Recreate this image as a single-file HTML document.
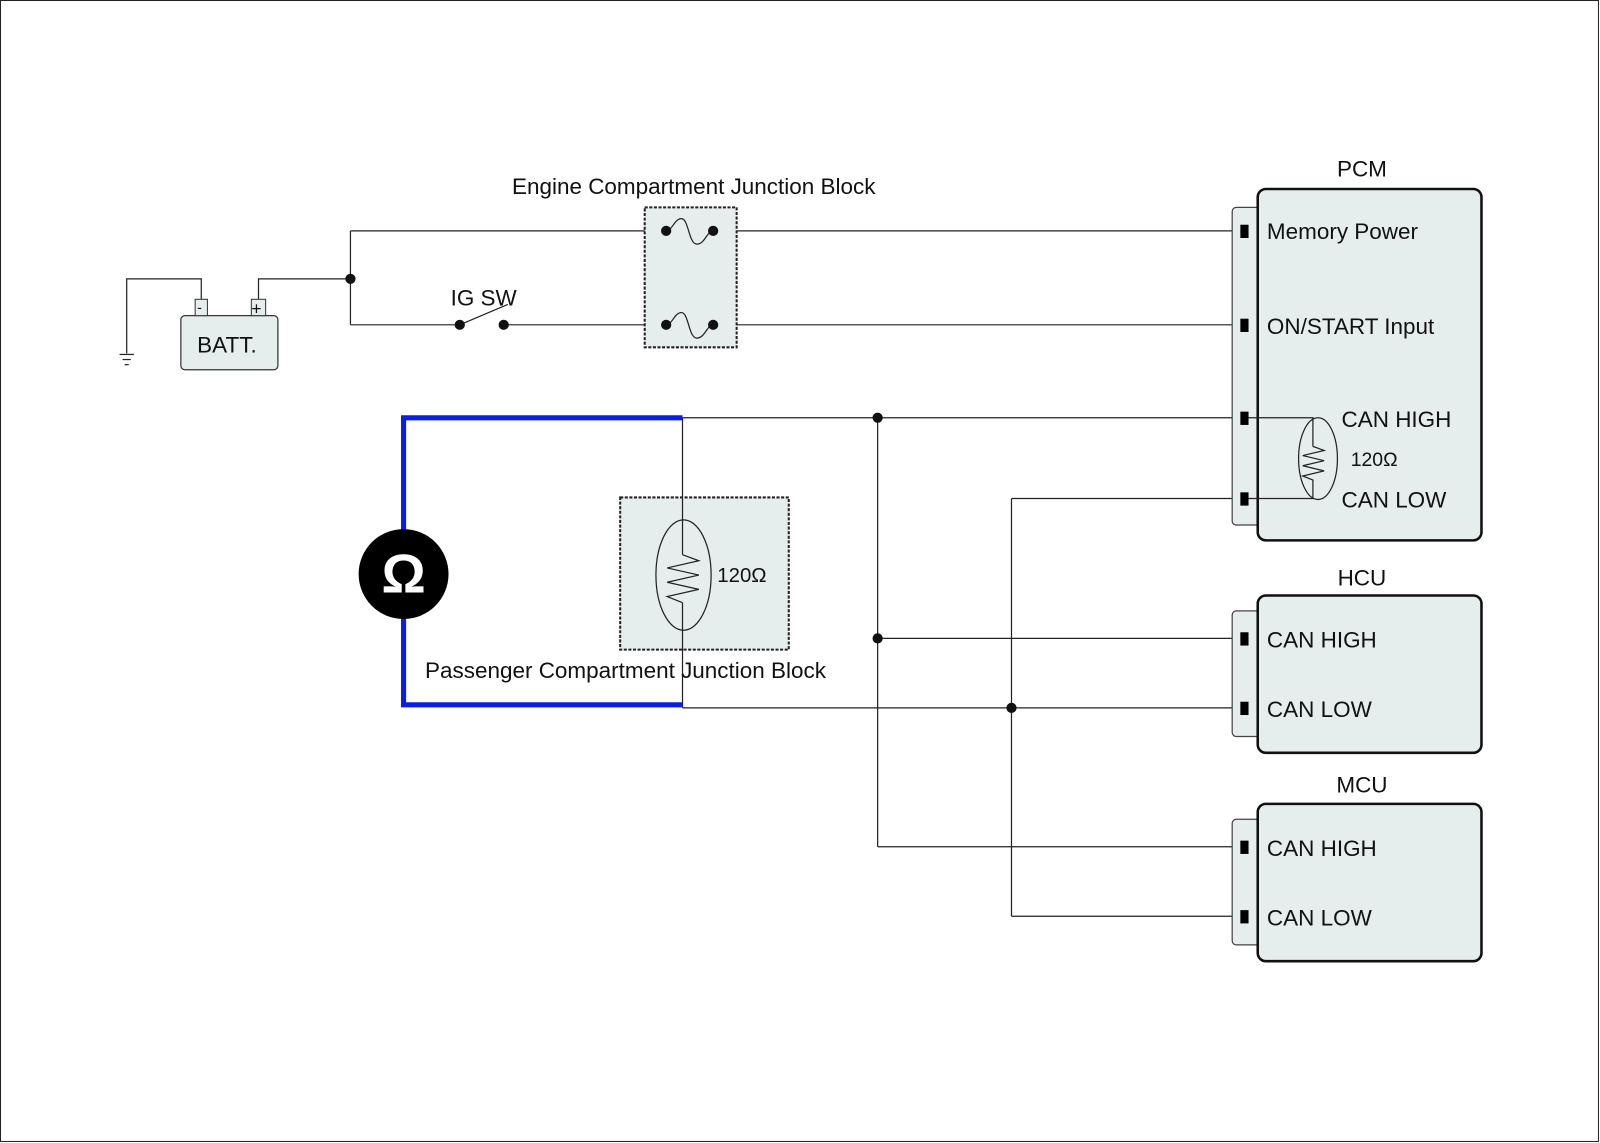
<!DOCTYPE html>
<html><head><meta charset="utf-8"><style>
html,body{margin:0;padding:0;background:#fff;}
svg{display:block;}
text{font-family:"Liberation Sans",Arial,sans-serif;font-size:22px;fill:#111;}
</style></head><body>
<svg width="1600" height="1143" viewBox="0 0 1566 1119" preserveAspectRatio="none" xmlns="http://www.w3.org/2000/svg">
<rect x="0.5" y="0.5" width="1564" height="1117" fill="#fff" stroke="#222" stroke-width="1"/>
<g fill="none" stroke="#222" stroke-width="1.2">
<polyline points="197,293 197,273 124,273 124,346"/>
<line x1="117" y1="347" x2="131" y2="347"/><line x1="120" y1="352" x2="128" y2="352"/><line x1="122" y1="357" x2="126" y2="357"/>
<polyline points="253,293 253,273 343,273"/>
<polyline points="343,226 343,318"/>
<line x1="343" y1="226" x2="1214" y2="226"/>
<line x1="343" y1="318" x2="450" y2="318"/>
<line x1="450" y1="318" x2="497" y2="298"/>
<line x1="493" y1="318" x2="1214" y2="318"/>
</g>
<rect x="177" y="309" width="95" height="53" rx="4" fill="#e6eded" stroke="#333" stroke-width="1.2"/>
<rect x="191" y="293" width="12" height="16" fill="#e6eded" stroke="#333"/>
<text x="193" y="306" style="font-size:14px">-</text>
<rect x="246" y="293" width="14" height="16" fill="#e6eded" stroke="#333"/>
<text x="246" y="308" style="font-size:17px">+</text>
<text x="193" y="345">BATT.</text>
<circle cx="343" cy="273" r="5" fill="#111"/>
<circle cx="450" cy="318" r="5" fill="#111"/><circle cx="493" cy="318" r="5" fill="#111"/>
<text x="441" y="299">IG SW</text>
<text x="679" y="190" text-anchor="middle">Engine Compartment Junction Block</text>
<rect x="631" y="203" width="90" height="137" fill="#e6eded" stroke="#222" stroke-width="2" stroke-dasharray="3,1.5"/>
<path d="M652,226 C658,226 660,214 667,214 C674,214 674,239 682,239 C690,239 692,226 698,226" fill="none" stroke="#222" stroke-width="1.2"/>
<path d="M652,318 C658,318 660,306 667,306 C674,306 674,331 682,331 C690,331 692,318 698,318" fill="none" stroke="#222" stroke-width="1.2"/>
<circle cx="652" cy="226" r="5" fill="#111"/><circle cx="698" cy="226" r="5" fill="#111"/>
<circle cx="652" cy="318" r="5" fill="#111"/><circle cx="698" cy="318" r="5" fill="#111"/>
<g fill="none" stroke="#222" stroke-width="1.2">
<line x1="668" y1="409" x2="1214" y2="409"/>
<line x1="859" y1="409" x2="859" y2="829"/>
<line x1="859" y1="625" x2="1214" y2="625"/>
<line x1="859" y1="829" x2="1214" y2="829"/>
<line x1="990" y1="488" x2="1214" y2="488"/>
<line x1="990" y1="488" x2="990" y2="897"/>
<line x1="668" y1="693" x2="1214" y2="693"/>
<line x1="990" y1="897" x2="1214" y2="897"/>
</g>
<circle cx="859" cy="409" r="5" fill="#111"/><circle cx="859" cy="625" r="5" fill="#111"/><circle cx="990" cy="693" r="5" fill="#111"/>
<rect x="607" y="487" width="165" height="149" fill="#e6eded" stroke="#222" stroke-width="2" stroke-dasharray="3,1.5"/>
<line x1="668" y1="409" x2="668" y2="543" stroke="#222" stroke-width="1.2"/>
<line x1="668" y1="590" x2="668" y2="693" stroke="#222" stroke-width="1.2"/>
<ellipse cx="669" cy="563" rx="27" ry="54" fill="none" stroke="#222" stroke-width="1.2"/>
<polyline points="668,543 684,549 653,556 684,563 653,570 684,577 653,584 668,590" fill="none" stroke="#222" stroke-width="1.2"/>
<text x="702" y="570" style="font-size:20px">120Ω</text>
<text x="416" y="664">Passenger Compartment Junction Block</text>
<polyline points="668,409 395,409 395,690 668,690" fill="none" stroke="#0a1ee8" stroke-width="5"/>
<circle cx="395" cy="562" r="44" fill="#000"/>
<text x="395" y="580" text-anchor="middle" style="font-size:54px;font-weight:bold;fill:#fff">Ω</text>
<text x="1333" y="173" text-anchor="middle">PCM</text>
<rect x="1206" y="203" width="30" height="311" rx="4" fill="#e6eded" stroke="#444" stroke-width="1.2"/>
<rect x="1231" y="185" width="219" height="344" rx="8" fill="#e6eded" stroke="#111" stroke-width="2.5"/>
<rect x="1214" y="220" width="8" height="13" fill="#000"/>
<rect x="1214" y="312" width="8" height="13" fill="#000"/>
<rect x="1214" y="403" width="8" height="13" fill="#000"/>
<rect x="1214" y="482" width="8" height="13" fill="#000"/>
<text x="1240" y="234">Memory Power</text>
<text x="1240" y="327">ON/START Input</text>
<text x="1313" y="418">CAN HIGH</text>
<text x="1322" y="456" style="font-size:19px">120Ω</text>
<text x="1313" y="497">CAN LOW</text>
<polyline points="1222,409 1285,409 1285,437" fill="none" stroke="#222" stroke-width="1.2"/>
<polyline points="1285,437 1296,441 1275,446 1296,451 1275,456 1296,461 1275,466 1285,470 1285,488 1222,488" fill="none" stroke="#222" stroke-width="1.2"/>
<ellipse cx="1290" cy="449" rx="19" ry="40" fill="none" stroke="#222" stroke-width="1.2"/>
<text x="1333" y="573" text-anchor="middle">HCU</text>
<rect x="1206" y="598" width="30" height="123" rx="4" fill="#e6eded" stroke="#444" stroke-width="1.2"/>
<rect x="1231" y="583" width="219" height="154" rx="8" fill="#e6eded" stroke="#111" stroke-width="2.5"/>
<rect x="1214" y="619" width="8" height="13" fill="#000"/>
<rect x="1214" y="687" width="8" height="13" fill="#000"/>
<text x="1240" y="634">CAN HIGH</text>
<text x="1240" y="702">CAN LOW</text>
<text x="1333" y="776" text-anchor="middle">MCU</text>
<rect x="1206" y="802" width="30" height="123" rx="4" fill="#e6eded" stroke="#444" stroke-width="1.2"/>
<rect x="1231" y="787" width="219" height="154" rx="8" fill="#e6eded" stroke="#111" stroke-width="2.5"/>
<rect x="1214" y="823" width="8" height="13" fill="#000"/>
<rect x="1214" y="891" width="8" height="13" fill="#000"/>
<text x="1240" y="838">CAN HIGH</text>
<text x="1240" y="906">CAN LOW</text>
</svg>
</body></html>
